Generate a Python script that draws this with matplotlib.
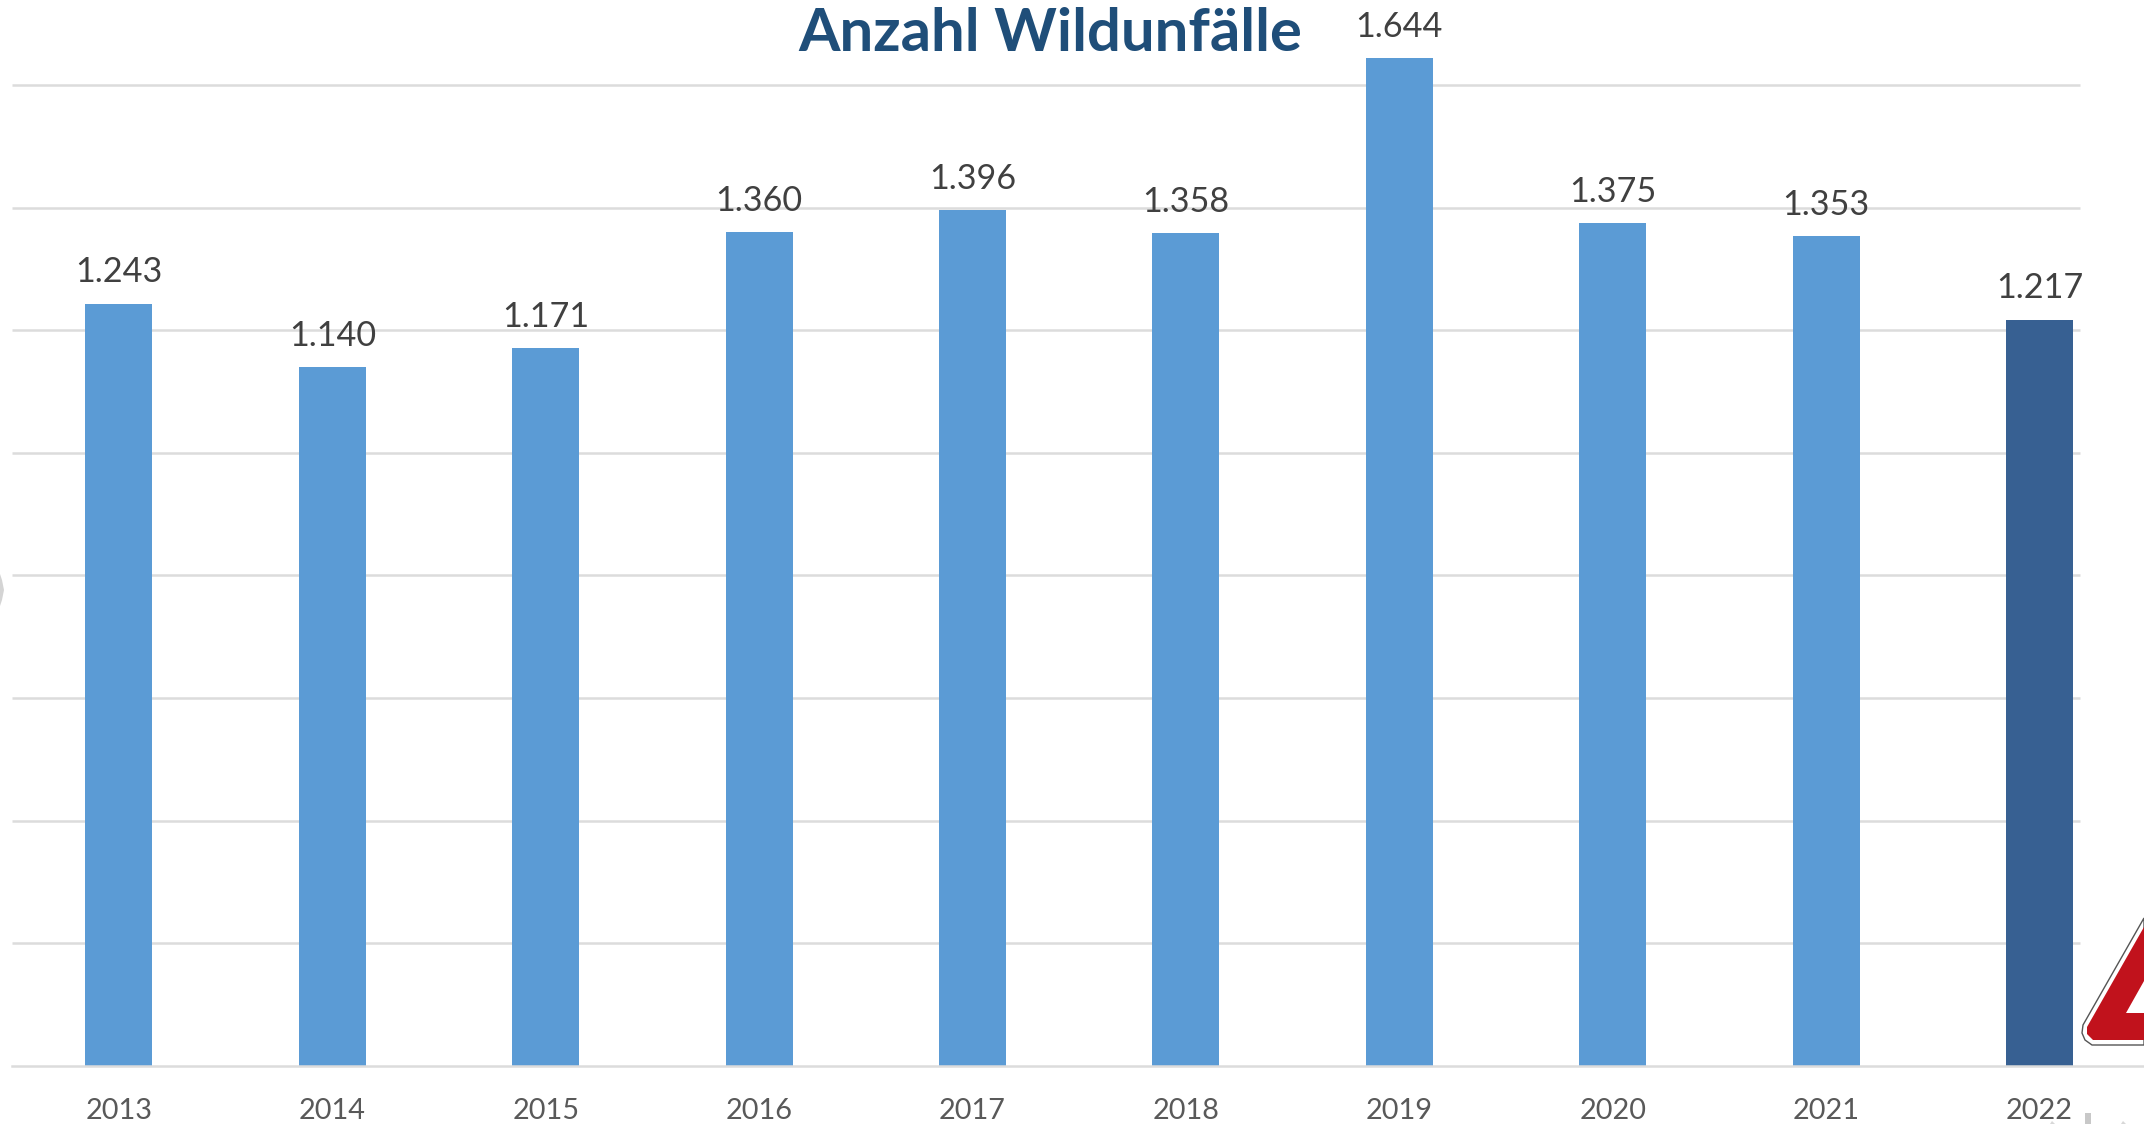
import matplotlib
matplotlib.use("Agg")
import matplotlib.pyplot as plt
from matplotlib.patches import Polygon, Circle

years = ["2013", "2014", "2015", "2016", "2017", "2018", "2019", "2020", "2021", "2022"]
values = [1243, 1140, 1171, 1360, 1396, 1358, 1644, 1375, 1353, 1217]
labels = ["1.243", "1.140", "1.171", "1.360", "1.396", "1.358", "1.644", "1.375", "1.353", "1.217"]
colors = ["#5B9BD5"] * 9 + ["#376092"]
grid_values = [200, 400, 600, 800, 1000, 1200, 1400, 1600]

W, H = 2144, 1124
fig = plt.figure(figsize=(W / 100, H / 100), dpi=100, facecolor="white")
plt.rcParams["font.family"] = ["Lato", "DejaVu Sans"]

left, right, bottom, top = 12.2, 2146.2, 1065.7, 0
ax = fig.add_axes([left / W, 1 - bottom / H, (right - left) / W, (bottom - top) / H])
ax.set_xlim(-0.5, 9.5)
ax.set_ylim(0, (bottom - top) / 0.613)
ax.patch.set_alpha(0)
for s in ["top", "left", "right"]:
    ax.spines[s].set_visible(False)
ax.spines["bottom"].set_color("#DCDCDC")
ax.spines["bottom"].set_linewidth(1.8)
ax.set_yticks([])
ax.tick_params(axis="x", length=0, pad=23, labelsize=20.8, labelcolor="#595959")

ax.hlines(grid_values, -0.5, 9.19, color="#DCDCDC", lw=1.8, zorder=1)
ax.bar(range(10), values, width=0.314, color=colors, zorder=2)
ax.set_xticks(range(10), years)
for i, (v, lab) in enumerate(zip(values, labels)):
    ax.annotate(lab, (i, v), xytext=(0, 11), textcoords="offset points",
                ha="center", va="bottom", fontsize=24.6, color="#404040", zorder=3)

fig.text(1050 / W, 1 - 34 / H, "Anzahl Wildunfälle", ha="center", va="center",
         fontsize=43, fontweight="bold", color="#1F4E79")

# Warning-sign fragment at the lower right
tf = fig.transFigure
def P(pts, **kw):
    fig.add_artist(Polygon([(x / W, 1 - y / H) for x, y in pts], closed=True, transform=tf, **kw))

P([(2144, 918), (2083, 1025), (2082, 1033), (2085, 1040), (2092, 1045), (2144, 1045)],
  fc="white", ec="#555555", lw=1)
P([(2144, 927), (2087, 1027), (2087, 1034), (2093, 1040), (2144, 1040)], fc="#C1121C", ec="none")
P([(2144, 981), (2126, 1013), (2144, 1013)], fc="white", ec="none")

# Faint cropped marks at the picture edges
fig.add_artist(Polygon([(0, 1 - 574 / H), (2 / W, 1 - 580 / H), (4 / W, 1 - 590 / H),
                        (2 / W, 1 - 600 / H), (0, 1 - 606 / H)],
                       closed=True, transform=tf, fc="#D4D4D4", ec="none"))
P([(2085, 1124), (2085, 1113), (2091, 1113), (2091, 1124)], fc="#C8C8C8", ec="none")
P([(2050, 1124), (2052, 1121), (2055, 1124)], fc="#D8D8D8", ec="none")
P([(2121, 1124), (2123, 1121), (2126, 1124)], fc="#D8D8D8", ec="none")
fig.savefig("out.png", dpi=100)
